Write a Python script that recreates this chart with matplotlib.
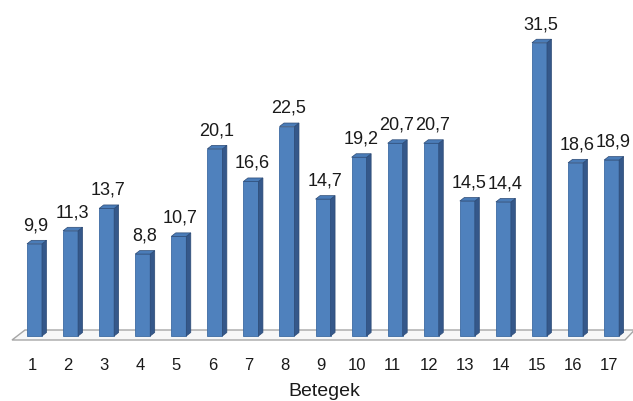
import matplotlib.pyplot as plt
from matplotlib.patches import Polygon

patients = [str(i) for i in range(1, 18)]
values = [9.9, 11.3, 13.7, 8.8, 10.7, 20.1, 16.6, 22.5, 14.7,
          19.2, 20.7, 20.7, 14.5, 14.4, 31.5, 18.6, 18.9]

plt.rcParams['font.family'] = ['Liberation Sans', 'DejaVu Sans']

fig = plt.figure(figsize=(6.33, 4.01), dpi=100)
ax = fig.add_axes([0, 0, 1, 1])

# pixel-based scale: 36.07 px between bars, 9.31 px per unit
px_x = 1 / 36.07
px_y = 1 / 9.31
ax.set_xlim(1 - 34.5 * px_x, 1 + 598.5 * px_x)
ax.set_ylim(-65 * px_y, 336 * px_y)
ax.axis('off')

# floor
floor = Polygon([(1 - 22.5 * px_x, -4 * px_y), (1 + 590.5 * px_x, -4 * px_y),
                 (1 + 600 * px_x, 6 * px_y), (1 - 9.5 * px_x, 6 * px_y)],
                closed=True, facecolor='#f7f7f7', edgecolor='#a6a6a6', lw=1.0, zorder=1)
ax.add_patch(floor)

w = 15 * px_x
d = 4.5 * px_x
dz = 3.5 * px_y
x = list(range(1, 18))

ax.bar(x, values, width=w, color='#4f81bd', edgecolor='#3d6ba3', lw=0.6, zorder=3)
for xi, v in zip(x, values):
    side = Polygon([(xi + w / 2, 0), (xi + w / 2 + d, dz), (xi + w / 2 + d, v + dz), (xi + w / 2, v)],
                   closed=True, facecolor='#35588a', edgecolor='#2c4a75', lw=0.5, zorder=3)
    top = Polygon([(xi - w / 2, v), (xi + w / 2, v), (xi + w / 2 + d, v + dz), (xi - w / 2 + d, v + dz)],
                  closed=True, facecolor='#4a7cb8', edgecolor='#2c4a75', lw=0.5, zorder=3)
    ax.add_patch(side)
    ax.add_patch(top)
    ax.annotate(f'{v:.1f}'.replace('.', ','), (xi + 1.5 * px_x, v), xytext=(0, 13),
                textcoords='offset points', ha='center', va='center',
                fontsize=13, color='#1a1a1a', zorder=4)

for xi, lab in zip(x, patients):
    ax.text(xi - 2.5 * px_x, -29 * px_y, lab, ha='center', va='center',
            fontsize=12, color='#1a1a1a')

ax.text(1 + 289.5 * px_x, -56 * px_y, 'Betegek', ha='center', va='center',
        fontsize=14, color='#1a1a1a')

fig.savefig('out.png', dpi=100)
